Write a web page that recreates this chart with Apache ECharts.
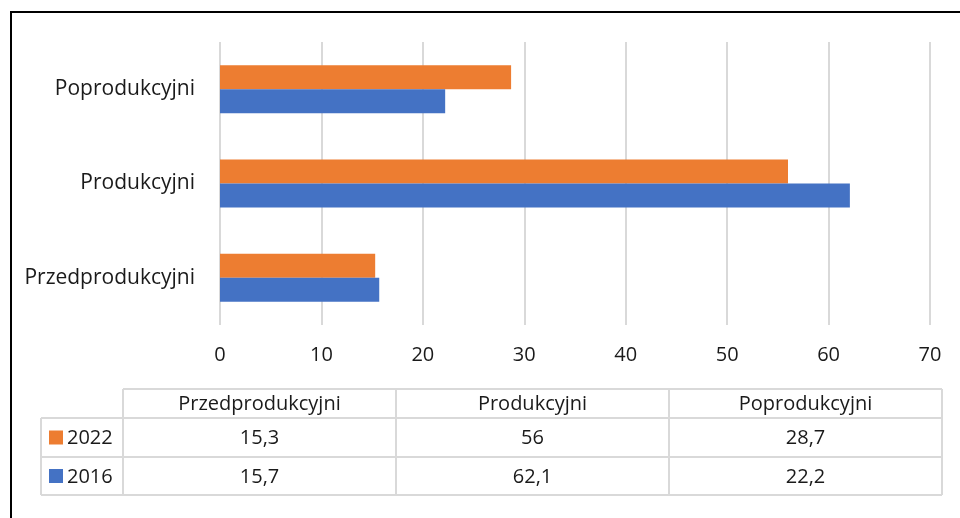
<!DOCTYPE html>
<html>
<head>
<meta charset="utf-8">
<script src="https://cdn.jsdelivr.net/npm/echarts@6/dist/echarts.min.js"></script>
<style>
  html, body { margin: 0; padding: 0; background: #fff; }
  #chart { width: 960px; height: 518px; }
</style>
</head>
<body>
<div id="chart"></div>
<script>
// dane
var categories = ['Przedprodukcyjni', 'Produkcyjni', 'Poprodukcyjni'];
var seriesNames = ['2022', '2016'];
var values2022 = [15.3, 56, 28.7];
var values2016 = [15.7, 62.1, 22.2];
var xTicks = [0, 10, 20, 30, 40, 50, 60, 70];

var colors = { '2016': '#4472C4', '2022': '#ED7D31' };
var FONT = '"Open Sans"';

function plNum(v) {
    return String(v).replace('.', ',');
}

var chart = echarts.init(document.getElementById('chart'));

// tabela danych pod wykresem
function buildTable() {
    var g = [];
    var lineColor = '#d9d9d9';
    var colX = [123, 396, 669, 942];
    var legendLeft = 41;
    var rowY = [389, 418, 457, 495];
    var rows = [
        { name: '2022', data: values2022 },
        { name: '2016', data: values2016 }
    ];
    function hline(x1, x2, y) {
        g.push({ type: 'line', shape: { x1: x1, y1: y, x2: x2, y2: y },
            style: { stroke: lineColor, lineWidth: 2 }, silent: true });
    }
    function vline(x, y1, y2) {
        g.push({ type: 'line', shape: { x1: x, y1: y1, x2: x, y2: y2 },
            style: { stroke: lineColor, lineWidth: 2 }, silent: true });
    }
    hline(colX[0], colX[3], rowY[0]);
    hline(legendLeft, colX[3], rowY[1]);
    hline(legendLeft, colX[3], rowY[2]);
    hline(legendLeft, colX[3], rowY[3]);
    vline(legendLeft, rowY[1], rowY[3]);
    for (var i = 0; i < colX.length; i++) vline(colX[i], rowY[0], rowY[3]);

    for (var c = 0; c < categories.length; c++) {
        g.push({ type: 'text', x: (colX[c] + colX[c + 1]) / 2, y: (rowY[0] + rowY[1]) / 2 + 1,
            style: { text: categories[c], fill: '#1a1a1a', font: '20px ' + FONT,
                align: 'center', verticalAlign: 'middle' }, silent: true });
    }
    rows.forEach(function (r, ri) {
        var cy = (rowY[ri + 1] + rowY[ri + 2]) / 2;
        g.push({ type: 'rect', shape: { x: 49, y: cy - 7, width: 14, height: 14 },
            style: { fill: colors[r.name] }, silent: true });
        g.push({ type: 'text', x: 67, y: cy + 1,
            style: { text: r.name, fill: '#1a1a1a', font: '20px ' + FONT,
                align: 'left', verticalAlign: 'middle' }, silent: true });
        r.data.forEach(function (v, ci) {
            g.push({ type: 'text', x: (colX[ci] + colX[ci + 1]) / 2, y: cy + 1,
                style: { text: plNum(v), fill: '#1a1a1a', font: '20px ' + FONT,
                    align: 'center', verticalAlign: 'middle' }, silent: true });
        });
    });
    // ramka
    g.push({ type: 'rect', shape: { x: 11, y: 12, width: 1000, height: 600 },
        style: { fill: null, stroke: '#000', lineWidth: 2 }, silent: true, z: 100 });
    return g;
}

chart.setOption({
    backgroundColor: '#fff',
    animation: false,
    textStyle: { fontFamily: FONT },
    grid: { left: 220, right: 30, top: 42, bottom: 193, containLabel: false },
    xAxis: {
        type: 'value',
        min: xTicks[0],
        max: xTicks[xTicks.length - 1],
        interval: 10,
        axisLine: { show: false },
        axisTick: { show: false },
        axisLabel: { color: '#1a1a1a', fontSize: 20, margin: 20 },
        splitLine: { lineStyle: { color: '#d9d9d9', width: 2 } }
    },
    yAxis: {
        type: 'category',
        data: categories,
        axisLine: { show: false },
        axisTick: { show: false },
        axisLabel: { color: '#1a1a1a', fontSize: 21, margin: 25 }
    },
    series: [
        {
            name: seriesNames[0], type: 'bar', data: values2022,
            itemStyle: { color: colors['2022'] },
            barWidth: 24, barGap: '0%', barCategoryGap: '49%'
        },
        {
            name: seriesNames[1], type: 'bar', data: values2016,
            itemStyle: { color: colors['2016'] },
            barWidth: 24, barGap: '0%', barCategoryGap: '49%'
        }
    ],
    graphic: buildTable()
});
</script>
</body>
</html>
